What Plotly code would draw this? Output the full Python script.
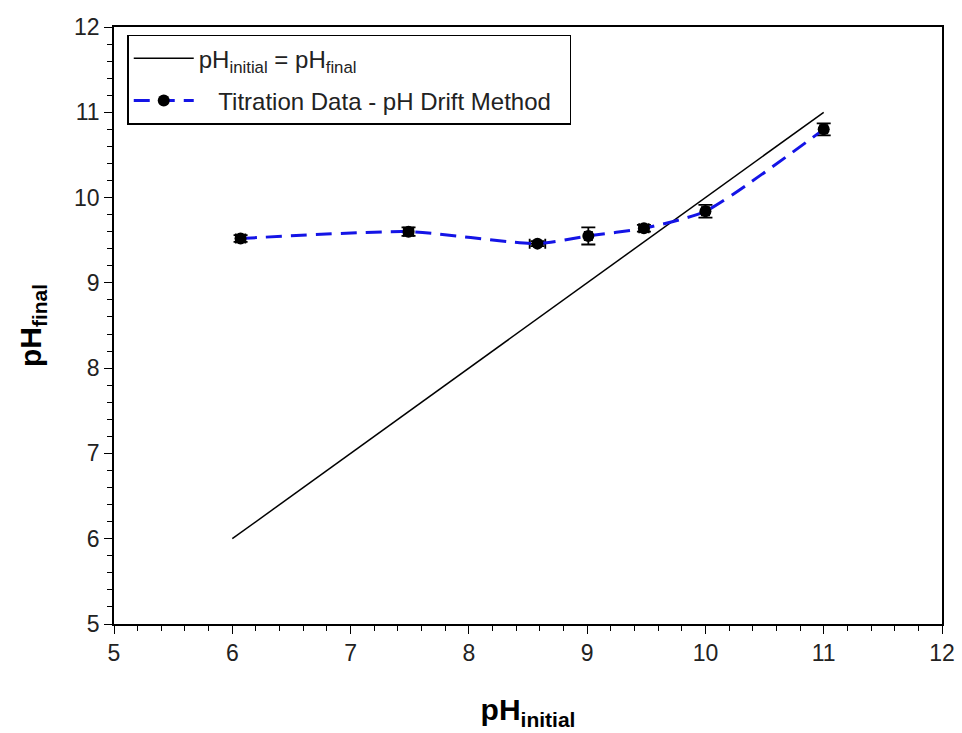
import plotly.graph_objects as go

# Data
ph_initial = [6.07, 7.49, 8.58, 9.01, 9.48, 10.0, 11.0]
ph_final = [9.52, 9.60, 9.46, 9.55, 9.64, 9.84, 10.80]
x_err = [0.04, 0.04, 0.066, 0.03, 0.04, 0.03, 0.03]
y_err = [0.04, 0.05, 0.03, 0.10, 0.04, 0.074, 0.07]
identity_x = [6, 11]
identity_y = [6, 11]

FONT = "Arial, Liberation Sans, sans-serif"

fig = go.Figure()

fig.add_trace(go.Scatter(
    x=identity_x, y=identity_y, mode="lines",
    line=dict(color="black", width=1.5),
    name="pH<sub>initial</sub> = pH<sub>final</sub>",
    legendgroup="a",
))

fig.add_trace(go.Scatter(
    x=ph_initial, y=ph_final, mode="lines+markers",
    line=dict(color="#1414e6", width=3, dash="16px,9px", shape="spline", smoothing=0.6),
    marker=dict(color="black", size=12),
    error_x=dict(type="data", array=x_err, color="black", thickness=1.8, width=5),
    error_y=dict(type="data", array=y_err, color="black", thickness=1.8, width=7),
    name="   Titration Data - pH Drift Method  ",
    legendgroup="b",
))

axis_common = dict(
    showline=True, linecolor="black", linewidth=1.5, mirror=True,
    ticks="outside", ticklen=8, tickwidth=1, tickcolor="black",
    showgrid=False, zeroline=False,
    tickfont=dict(family=FONT, size=23, color="#222"),
    minor=dict(ticks="outside", ticklen=5, tickcolor="black", dtick=0.2, showgrid=False),
)

fig.update_xaxes(range=[5, 12], dtick=1, automargin="height",
                 title=dict(text="<b>pH<sub>initial</sub></b>",
                            font=dict(family=FONT, size=30, color="black"),
                            standoff=34),
                 **axis_common)
fig.update_yaxes(range=[5, 12], dtick=1, automargin="width",
                 title=dict(text="<b>pH<sub>final</sub></b>",
                            font=dict(family=FONT, size=30, color="black"),
                            standoff=24),
                 **axis_common)

fig.update_layout(
    width=962, height=733,
    margin=dict(l=114, r=20, t=27, b=107),
    plot_bgcolor="white", paper_bgcolor="white",
    font=dict(family=FONT, size=23, color="#222"),
    legend=dict(x=0.016, y=0.987, xanchor="left", yanchor="top",
                bordercolor="black", borderwidth=1.5, bgcolor="white",
                font=dict(family=FONT, size=24, color="#222"), itemwidth=60,
                traceorder="grouped", tracegroupgap=8),
    showlegend=True,
)

fig.write_html("out.html")
